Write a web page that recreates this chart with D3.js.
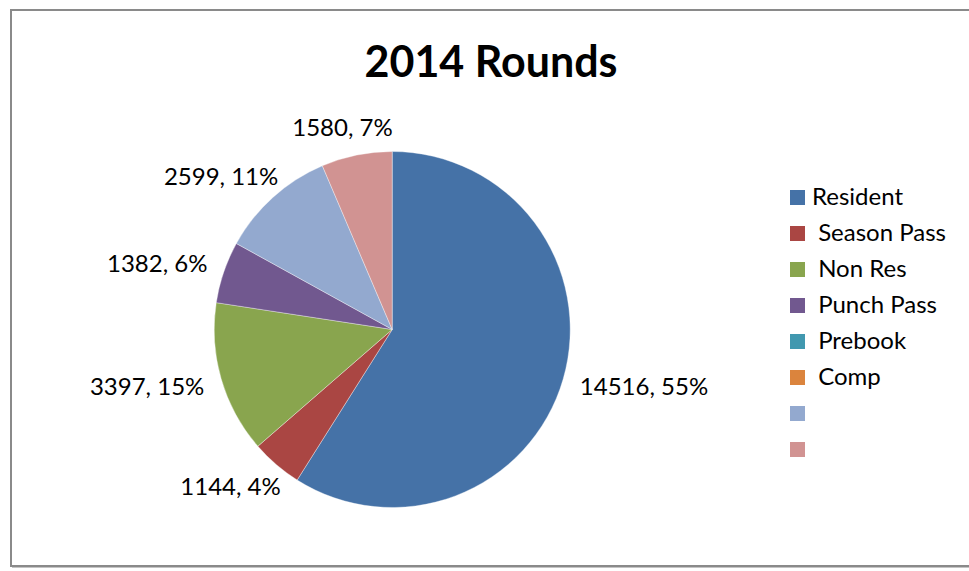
<!DOCTYPE html>
<html>
<head>
<meta charset="utf-8">
<script src="https://cdn.jsdelivr.net/npm/d3@7"></script>
<style>
  html, body { margin: 0; padding: 0; background: #fff; }
  svg { display: block; }
  text { font-family: Lato, "Open Sans", sans-serif; fill: #000; }
</style>
</head>
<body>
<svg id="chart" width="969" height="571"></svg>
<script>
// 2014 rounds played, by pass type
const categories = ["Resident", " Season Pass", " Non Res", " Punch Pass", " Prebook", " Comp", "", ""];
const rounds     = [14516, 1144, 3397, 1382, 0, 0, 2599, 1580];
const pctLabels  = ["55%", "4%", "15%", "6%", "", "", "11%", "7%"];
const colors     = ["#4572A7", "#AA4643", "#89A54E", "#71588F", "#4198AF", "#DB843D", "#93A9CF", "#D19392"];
const title      = "2014 Rounds";

const svg = d3.select("#chart");

// chart frame
svg.append("rect")
  .attr("x", 11).attr("y", 10)
  .attr("width", 975).attr("height", 556)
  .attr("fill", "#fff")
  .attr("stroke", "#8a8a8a")
  .attr("stroke-width", 2);
svg.append("line")
  .attr("x1", 12).attr("x2", 969)
  .attr("y1", 567.5).attr("y2", 567.5)
  .attr("stroke", "#c4c4c4").attr("stroke-width", 1);

svg.append("text")
  .attr("x", 491).attr("y", 77)
  .attr("text-anchor", "middle")
  .style("font-size", "43px")
  .style("font-weight", "bold")
  .text(title);

const cx = 392.2, cy = 329.5, r = 178;
const data = categories.map((c, i) => ({ name: c, value: rounds[i], pct: pctLabels[i], color: colors[i] }));

const pie = d3.pie().value(d => d.value).sort(null).startAngle(0).endAngle(2 * Math.PI);
const arcs = pie(data);
const arc = d3.arc().innerRadius(0).outerRadius(r);

const g = svg.append("g").attr("transform", `translate(${cx},${cy})`);
g.selectAll("path.slice")
  .data(arcs.filter(a => a.data.value > 0))
  .join("path")
  .attr("class", "slice")
  .attr("d", arc)
  .attr("fill", a => a.data.color)
  .attr("stroke", "#ffffff")
  .attr("stroke-opacity", 0.6)
  .attr("stroke-width", 0.6);

// value labels placed just outside each slice, nearest edge facing the pie
const gap = 20;
const labels = g.selectAll("text.lbl")
  .data(arcs.filter(a => a.data.value > 0))
  .join("text")
  .attr("class", "lbl")
  .style("font-size", "24px")
  .attr("text-anchor", "middle")
  .text(a => `${a.data.value}, ${a.data.pct}`);

labels.each(function (a) {
  const t = d3.select(this);
  const w = this.getComputedTextLength();
  const h = 17;  // cap height
  const mid = (a.startAngle + a.endAngle) / 2;
  const sx = Math.sin(mid), sy = -Math.cos(mid);
  const px = sx * (r + gap), py = sy * (r + gap);
  const lx = px + sx * w / 2;
  const ly = py + sy * h / 2;
  t.attr("x", lx).attr("y", ly + h / 2);
});

// legend
const legend = svg.append("g").attr("transform", "translate(790,190)");
const rows = legend.selectAll("g.row")
  .data(data)
  .join("g")
  .attr("class", "row")
  .attr("transform", (d, i) => `translate(0,${i * 36})`);
rows.append("rect")
  .attr("width", 15).attr("height", 15)
  .attr("fill", d => d.color);
rows.append("text")
  .attr("x", 22).attr("y", 15)
  .style("font-size", "24px")
  .style("white-space", "pre")
  .attr("xml:space", "preserve")
  .text(d => d.name);
</script>
</body>
</html>
